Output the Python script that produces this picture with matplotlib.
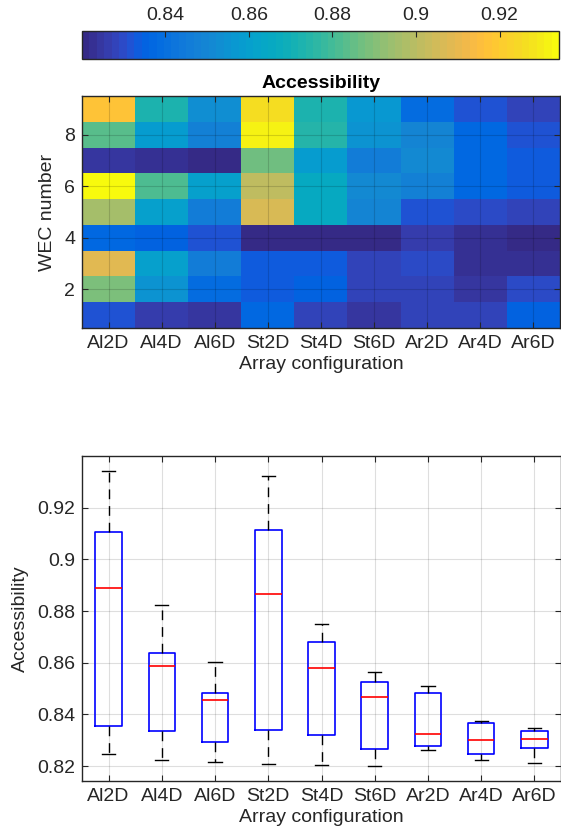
import numpy as np
import matplotlib
matplotlib.use("Agg")
import matplotlib.pyplot as plt
from matplotlib.colors import ListedColormap
from matplotlib.ticker import FuncFormatter

plt.rcParams["font.family"] = ["Liberation Sans", "DejaVu Sans"]

# ---- data: accessibility per WEC (rows 1..9) for each array configuration ----
configs = ["Al2D", "Al4D", "Al6D", "St2D", "St4D", "St6D", "Ar2D", "Ar4D", "Ar6D"]
wec_numbers = [1, 2, 3, 4, 5, 6, 7, 8, 9]

al2d = [0.8325, 0.8889, 0.9085, 0.8365, 0.8965, 0.9342, 0.8246, 0.8840, 0.9175]
al4d = [0.8260, 0.8545, 0.8607, 0.8360, 0.8597, 0.8822, 0.8224, 0.8587, 0.8725]
al6d = [0.8245, 0.8380, 0.8454, 0.8309, 0.8462, 0.8603, 0.8217, 0.8469, 0.8530]
st2d = [0.8370, 0.8335, 0.8342, 0.8206, 0.9065, 0.9020, 0.8864, 0.9324, 0.9260]
st4d = [0.8275, 0.8355, 0.8335, 0.8204, 0.8655, 0.8660, 0.8580, 0.8749, 0.8735]
st6d = [0.8245, 0.8273, 0.8280, 0.8201, 0.8490, 0.8519, 0.8468, 0.8550, 0.8562]
ar2d = [0.8275, 0.8280, 0.8300, 0.8263, 0.8325, 0.8480, 0.8511, 0.8496, 0.8395]
ar4d = [0.8275, 0.8251, 0.8228, 0.8222, 0.8302, 0.8363, 0.8371, 0.8373, 0.8310]
ar6d = [0.8346, 0.8306, 0.8225, 0.8212, 0.8290, 0.8341, 0.8336, 0.8318, 0.8286]

colorbar_ticks = [0.84, 0.86, 0.88, 0.90, 0.92]
box_yticks = [0.82, 0.84, 0.86, 0.88, 0.90, 0.92]

accessibility = np.column_stack([al2d, al4d, al6d, st2d, st4d, st6d, ar2d, ar4d, ar6d])

# parula-style colormap (64 levels)
PARULA = [
    (0.2081, 0.1663, 0.5292), (0.2116, 0.1898, 0.5777), (0.2123, 0.2138, 0.6270), (0.2081, 0.2386, 0.6771),
    (0.1959, 0.2645, 0.7279), (0.1707, 0.2919, 0.7792), (0.1253, 0.3242, 0.8303), (0.0591, 0.3598, 0.8683),
    (0.0117, 0.3875, 0.8820), (0.0060, 0.4086, 0.8828), (0.0165, 0.4266, 0.8786), (0.0329, 0.4430, 0.8720),
    (0.0498, 0.4586, 0.8641), (0.0629, 0.4737, 0.8554), (0.0723, 0.4887, 0.8467), (0.0779, 0.5040, 0.8384),
    (0.0793, 0.5200, 0.8312), (0.0749, 0.5375, 0.8263), (0.0641, 0.5570, 0.8240), (0.0488, 0.5772, 0.8228),
    (0.0343, 0.5966, 0.8199), (0.0265, 0.6137, 0.8135), (0.0239, 0.6287, 0.8038), (0.0231, 0.6418, 0.7913),
    (0.0228, 0.6535, 0.7768), (0.0267, 0.6642, 0.7607), (0.0384, 0.6743, 0.7436), (0.0590, 0.6838, 0.7254),
    (0.0843, 0.6928, 0.7062), (0.1133, 0.7015, 0.6859), (0.1453, 0.7098, 0.6646), (0.1801, 0.7177, 0.6424),
    (0.2178, 0.7250, 0.6193), (0.2586, 0.7317, 0.5954), (0.3022, 0.7376, 0.5712), (0.3482, 0.7424, 0.5473),
    (0.3953, 0.7459, 0.5244), (0.4420, 0.7481, 0.5033), (0.4871, 0.7491, 0.4840), (0.5300, 0.7491, 0.4661),
    (0.5709, 0.7485, 0.4494), (0.6099, 0.7473, 0.4337), (0.6473, 0.7456, 0.4188), (0.6834, 0.7435, 0.4044),
    (0.7184, 0.7411, 0.3905), (0.7525, 0.7384, 0.3768), (0.7858, 0.7356, 0.3633), (0.8185, 0.7327, 0.3498),
    (0.8507, 0.7299, 0.3360), (0.8824, 0.7274, 0.3217), (0.9139, 0.7258, 0.3063), (0.9450, 0.7261, 0.2886),
    (0.9739, 0.7314, 0.2666), (0.9938, 0.7455, 0.2403), (0.9990, 0.7653, 0.2164), (0.9955, 0.7861, 0.1967),
    (0.9880, 0.8066, 0.1794), (0.9789, 0.8271, 0.1633), (0.9697, 0.8481, 0.1475), (0.9626, 0.8705, 0.1309),
    (0.9589, 0.8949, 0.1132), (0.9598, 0.9218, 0.0948), (0.9661, 0.9514, 0.0755), (0.9763, 0.9831, 0.0538),
]
cmap = ListedColormap(PARULA)

INK = (0.15, 0.15, 0.15)
FS = 14
W, H = 561, 831
gfmt = FuncFormatter(lambda v, p: f"{v:g}")


def fig_rect(x0, y0, x1, y1):
    return [x0 / W, 1 - y1 / H, (x1 - x0) / W, (y1 - y0) / H]


def matlab_box_stats(values):
    """Quartiles as MATLAB's prctile computes them, whiskers at 1.5 IQR."""
    x = np.sort(np.asarray(values, dtype=float))
    n = len(x)
    pos = (np.arange(1, n + 1) - 0.5) / n * 100
    q1, med, q3 = np.interp([25, 50, 75], pos, x)
    iqr = q3 - q1
    lo = x[x >= q1 - 1.5 * iqr].min()
    hi = x[x <= q3 + 1.5 * iqr].max()
    return dict(med=med, q1=q1, q3=q3, whislo=lo, whishi=hi, fliers=[])


def style_axes(ax):
    for s in ax.spines.values():
        s.set_edgecolor(INK)
        s.set_linewidth(1.0)
    ax.tick_params(direction="in", top=True, right=True, length=4, width=0.8,
                   colors=INK, labelsize=FS, pad=5)


fig = plt.figure(figsize=(W / 100, H / 100), dpi=100)

# ---- heatmap ----
ax_h = fig.add_axes(fig_rect(82, 96, 560, 328))
vmin, vmax = accessibility.min(), accessibility.max()
im = ax_h.imshow(accessibility, origin="lower", aspect="auto", cmap=cmap,
                 vmin=vmin, vmax=vmax, interpolation="nearest",
                 extent=(0.5, len(configs) + 0.5, 0.5, len(wec_numbers) + 0.5))
ax_h.set_xticks(range(1, len(configs) + 1))
ax_h.set_xticklabels(configs)
ax_h.set_yticks([2, 4, 6, 8])
style_axes(ax_h)
ax_h.grid(True, color="k", alpha=0.15, lw=0.8)
ax_h.set_axisbelow(False)
ax_h.set_title("Accessibility", fontsize=FS, fontweight="bold", pad=6, color="k")
ax_h.set_xlabel("Array configuration", fontsize=FS, color=INK, labelpad=3)
ax_h.set_ylabel("WEC number", fontsize=FS, color=INK, labelpad=6)

# ---- colorbar ----
cax = fig.add_axes(fig_rect(82, 31, 559, 59))
cb = fig.colorbar(im, cax=cax, orientation="horizontal")
cb.set_ticks(colorbar_ticks)
cax.xaxis.set_major_formatter(gfmt)
cax.xaxis.set_ticks_position("top")
cax.tick_params(direction="in", length=4, width=0.8, colors=INK, labelsize=FS, pad=5)
cb.outline.set_edgecolor(INK)
cb.outline.set_linewidth(1.0)

# ---- box plot ----
ax_b = fig.add_axes(fig_rect(82, 456, 561, 781))
stats = [matlab_box_stats(accessibility[:, j]) for j in range(len(configs))]
ax_b.bxp(stats, positions=range(1, len(configs) + 1), widths=0.5, capwidths=0.25,
         showfliers=False,
         boxprops=dict(color="blue", lw=1.2),
         medianprops=dict(color="red", lw=1.2),
         whiskerprops=dict(color="k", lw=1.0, linestyle=(0, (7, 5))),
         capprops=dict(color="k", lw=1.0))
ax_b.set_xlim(0.5, len(configs) + 0.5)
ax_b.set_ylim(0.8142, 0.94)
ax_b.set_xticks(range(1, len(configs) + 1))
ax_b.set_xticklabels(configs)
ax_b.set_yticks(box_yticks)
ax_b.yaxis.set_major_formatter(gfmt)
style_axes(ax_b)
ax_b.grid(True, color=INK, alpha=0.15, lw=0.8)
ax_b.set_axisbelow(True)
ax_b.set_xlabel("Array configuration", fontsize=FS, color=INK, labelpad=3)
ax_b.set_ylabel("Accessibility", fontsize=FS, color=INK, labelpad=6)

fig.savefig("out.png", dpi=100)
